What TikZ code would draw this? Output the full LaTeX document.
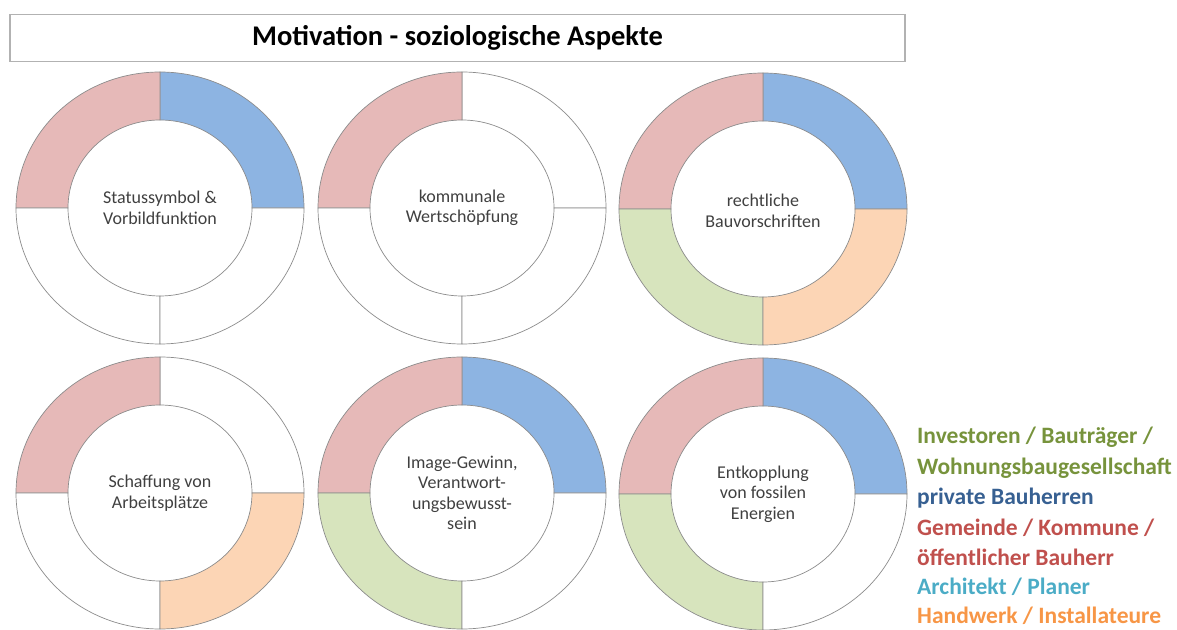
\documentclass[tikz,border=0pt]{standalone}
\usepackage{fontspec}
\setmainfont{Carlito}
\definecolor{segred}{HTML}{E6B9B8}
\definecolor{segblue}{HTML}{8DB4E2}
\definecolor{seggreen}{HTML}{D7E4BD}
\definecolor{segorange}{HTML}{FCD5B5}
\definecolor{leggreen}{HTML}{77933C}
\definecolor{legblue}{HTML}{376092}
\definecolor{legred}{HTML}{C0504D}
\definecolor{legcyan}{HTML}{4BACC6}
\definecolor{legorange}{HTML}{F79646}
\begin{document}
\begin{tikzpicture}[x=1pt, y=1pt,
    seg/.style={draw=black!45, line width=0.7pt},
    donuttext/.style={align=center, text=black!75, font=\fontsize{18}{20.5}\selectfont},
    legendtext/.style={anchor=base west, inner sep=0pt, font=\bfseries\fontsize{23.5}{30}\selectfont}]
  \useasboundingbox (0,0) rectangle (1177,629);
  \node[draw=black!30, line width=1.2pt, minimum width=895pt, minimum height=47pt,
    font=\bfseries\fontsize{28.5}{32}\selectfont] (title) at (457.5,591) {Motivation - soziologische Aspekte};
  % oben
  \begin{scope}[shift={(160,421)}]
    \foreach \a/\c in {0/segblue, 90/segred, 180/white, 270/white}
      \filldraw[seg, fill=\c] (\a:144 and 136) arc[start angle=\a, delta angle=90, x radius=144, y radius=136]
        -- (\a+90:92 and 88) arc[start angle=\a+90, delta angle=-90, x radius=92, y radius=88] -- cycle;
    \node[donuttext] (status) at (0,0) {Statussymbol \&\\Vorbildfunktion};
  \end{scope}
  \begin{scope}[shift={(462,421)}]
    \foreach \a/\c in {0/white, 90/segred, 180/white, 270/white}
      \filldraw[seg, fill=\c] (\a:144 and 136) arc[start angle=\a, delta angle=90, x radius=144, y radius=136]
        -- (\a+90:92 and 88) arc[start angle=\a+90, delta angle=-90, x radius=92, y radius=88] -- cycle;
    \node[donuttext] (wertschoepfung) at (0,0) {kommunale\\Wertschöpfung};
  \end{scope}
  \begin{scope}[shift={(763,420)}]
    \foreach \a/\c in {0/segblue, 90/segred, 180/seggreen, 270/segorange}
      \filldraw[seg, fill=\c] (\a:144 and 136) arc[start angle=\a, delta angle=90, x radius=144, y radius=136]
        -- (\a+90:92 and 88) arc[start angle=\a+90, delta angle=-90, x radius=92, y radius=88] -- cycle;
    \node[donuttext] (bauvorschriften) at (0,-2) {rechtliche\\Bauvorschriften};
  \end{scope}
  % unten
  \begin{scope}[shift={(160,136)}]
    \foreach \a/\c in {0/white, 90/segred, 180/white, 270/segorange}
      \filldraw[seg, fill=\c] (\a:144 and 136) arc[start angle=\a, delta angle=90, x radius=144, y radius=136]
        -- (\a+90:92 and 88) arc[start angle=\a+90, delta angle=-90, x radius=92, y radius=88] -- cycle;
    \node[donuttext] (arbeitsplaetze) at (0,0) {Schaffung von\\Arbeitsplätze};
  \end{scope}
  \begin{scope}[shift={(462,136)}]
    \foreach \a/\c in {0/segblue, 90/segred, 180/seggreen, 270/white}
      \filldraw[seg, fill=\c] (\a:144 and 136) arc[start angle=\a, delta angle=90, x radius=144, y radius=136]
        -- (\a+90:92 and 88) arc[start angle=\a+90, delta angle=-90, x radius=92, y radius=88] -- cycle;
    \node[donuttext] (image) at (0,0) {Image-Gewinn,\\Verantwort-\\ungsbewusst-\\sein};
  \end{scope}
  \begin{scope}[shift={(763,135)}]
    \foreach \a/\c in {0/segblue, 90/segred, 180/seggreen, 270/white}
      \filldraw[seg, fill=\c] (\a:144 and 136) arc[start angle=\a, delta angle=90, x radius=144, y radius=136]
        -- (\a+90:92 and 88) arc[start angle=\a+90, delta angle=-90, x radius=92, y radius=88] -- cycle;
    \node[donuttext] (entkopplung) at (0,0) {Entkopplung\\von fossilen\\Energien};
  \end{scope}
  % Legende
  \node[legendtext, text=leggreen] (investoren) at (917,185) {Investoren / Bauträger /};
  \node[legendtext, text=leggreen] (wohnungsbau) at (917,154) {Wohnungsbaugesellschaft};
  \node[legendtext, text=legblue] (privat) at (917,124) {private Bauherren};
  \node[legendtext, text=legred] (gemeinde) at (917,94) {Gemeinde / Kommune /};
  \node[legendtext, text=legred] (oeffentlich) at (917,64) {öffentlicher Bauherr};
  \node[legendtext, text=legcyan] (architekt) at (917,35) {Architekt / Planer};
  \node[legendtext, text=legorange] (handwerk) at (917,6) {Handwerk / Installateure};
\end{tikzpicture}
\end{document}
